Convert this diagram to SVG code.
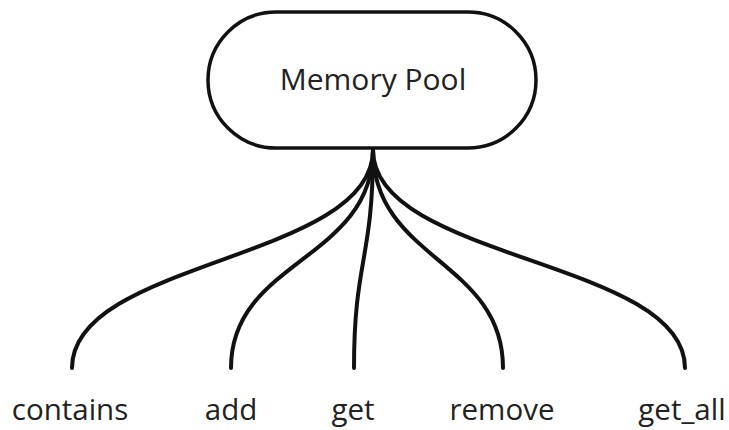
<svg xmlns="http://www.w3.org/2000/svg" width="729" height="430" viewBox="0 0 729 430">
<style>
.node{fill:#fff;stroke:#111;stroke-width:3.5}
.link{fill:none;stroke:#111;stroke-width:4;stroke-linecap:round}
.t{font-family:"Open Sans","Noto Sans",sans-serif;fill:#222;text-anchor:middle}
.title{font-size:30px}
.lbl{font-size:29.5px}
</style>
<rect width="729" height="430" fill="#fff"/>
<g id="connectors">
<path class="link" d="M373,150 C373,260 72,260 72,368"/>
<path class="link" d="M373,150 C373,260 231,260 231,368"/>
<path class="link" d="M373,150 C373,260 354,260 354,368"/>
<path class="link" d="M373,150 C373,260 503,260 503,368"/>
<path class="link" d="M373,150 C373,260 685,260 685,368"/>
</g>
<g id="memory-pool">
<rect class="node" x="208" y="12" width="328" height="136" rx="68" ry="68"/>
<text class="t title" x="373" y="90">Memory Pool</text>
</g>
<g id="contains"><text class="t lbl" x="70" y="420">contains</text></g>
<g id="add"><text class="t lbl" x="231" y="420">add</text></g>
<g id="get"><text class="t lbl" x="353" y="420">get</text></g>
<g id="remove"><text class="t lbl" x="502" y="420">remove</text></g>
<g id="get_all"><text class="t lbl" x="682" y="420">get_all</text></g>
</svg>
